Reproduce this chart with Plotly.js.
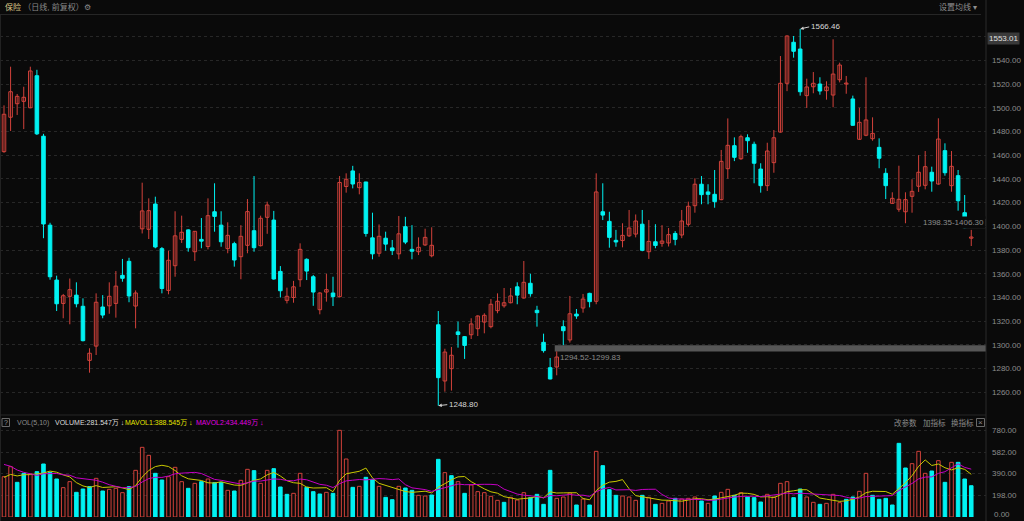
<!DOCTYPE html>
<html><head><meta charset="utf-8">
<script src="https://cdn.plot.ly/plotly-3.0.1.min.js"></script>
<style>html,body{margin:0;padding:0;background:#0a0a0a;overflow:hidden}#chart{width:1024px;height:521px;}</style>
</head><body><div id="chart"></div>
<script>
// ---------- data ----------
const opens = [1463,1492,1503.4,1505.4,1500,1527,1476,1401,1354.7,1335,1341,1342,1332.6,1287,1299,1332,1333,1335,1358.7,1370.5,
1332.8,1397.9,1397.5,1418.8,1381.2,1346,1366.8,1389,1397,1378.6,1389,1383,1412.3,1401,1381.2,1385.4,1374.4,1384,1396.3,1383.7,
1407.6,1405.3,1362,1337.6,1340,1355,1372.2,1357.5,1329.7,1344.6,1343.8,1340.7,1433.6,1446.7,1432.6,1437.4,1390.3,1377.3,1390,1381.8,
1376.8,1399.7,1380.6,1378.6,1384.3,1375.2,1317,1269.6,1280,1311,1307,1308.6,1313.7,1319.3,1315.4,1328.9,1333,1335.6,1349,1339.6,
1352,1329.2,1302.2,1280.8,1281.4,1315.4,1304.2,1326,1331.1,1343.5,1336.8,1412.3,1404.2,1388.2,1388,1392,1393.5,1401.8,1378.6,1387,
1385.7,1386,1394,1392.7,1401.7,1417.4,1435.5,1429,1427,1422.5,1448.6,1468,1457,1474.7,1469.2,1448.3,1434.3,1453.7,1479.5,1520.6,
1555.2,1549.5,1510.2,1517.7,1520,1514.4,1510.7,1523.6,1520,1507.4,1473.4,1476.8,1473.9,1466.6,1444.7,1419.4,1414.4,1412.3,1425.3,1433.8,
1434.6,1445.6,1435.7,1463.8,1434.3,1442.7,1411.5,1390];
const highs = [1502,1534.6,1511.6,1517.7,1534.6,1532,1478,1403,1358.4,1343,1356,1352.8,1339.3,1297.2,1343.5,1342,1352.8,1362.3,1372.5,1373.5,
1346,1436.8,1423.6,1425,1382.6,1379.4,1412.7,1409,1397.5,1396,1407,1423.6,1436.3,1412.7,1403.4,1387,1401,1423,1442.4,1409,
1420.8,1413,1366.5,1348.3,1354,1385.7,1373,1359,1344.5,1360,1357.5,1442.4,1444.7,1451,1444.7,1437.5,1411.5,1401.6,1395.5,1388.5,
1408.7,1408,1401,1390.7,1398,1399.2,1328.6,1296.8,1298.3,1319.7,1307.5,1322.5,1325,1326.7,1338.7,1343.5,1348,1348,1352.8,1370.8,
1360,1333,1309.5,1289,1294.52,1320.8,1341.3,1330.3,1343,1344,1444.7,1436.3,1412.3,1397,1402.6,1413.8,1410,1413.8,1405.3,1401.8,
1401,1398.6,1396,1413.8,1420.8,1440.5,1442.4,1435.5,1447.5,1464.4,1491,1475,1477.3,1477.6,1471.4,1453.2,1470.5,1481.2,1543.6,1561,
1560.5,1566.46,1524.5,1530.1,1525.7,1522.3,1557.7,1538,1526.8,1510.2,1500,1525.7,1491.9,1474.2,1449,1428.7,1451.1,1428.7,1439.7,1460,
1463.5,1450.3,1491.1,1470,1463.5,1447.5,1426.4,1397];
const lows = [1462,1480.4,1493.9,1482,1499.5,1477,1390,1355,1328.6,1322.5,1317.4,1331.7,1303,1276.6,1291.5,1322.5,1326.3,1323,1353.3,1336,
1314,1394,1389.3,1381.5,1343.5,1342.7,1357.5,1386,1378.6,1370.8,1381.5,1380.6,1395.5,1382.8,1377.3,1366,1355.4,1377.3,1378.6,1383,
1393.7,1355,1340,1335,1335.6,1349,1354.7,1333,1325.8,1336.5,1332.8,1340,1428.4,1432,1427,1391.3,1372.2,1374.4,1379.5,1375.8,
1372.2,1385,1372.2,1375.8,1383.5,1373.9,1248.8,1260.6,1261.5,1297.7,1288.2,1305,1307.5,1309.8,1314,1326.7,1331.4,1335,1334.3,1339,
1340.7,1315.4,1293.5,1271,1274.4,1299.83,1302,1322,1327.2,1331.7,1334.3,1405.3,1382,1382.8,1382.3,1391,1390.7,1379,1372.5,1381.5,
1382.8,1383,1384,1390,1399.7,1411.5,1418.6,1418.6,1415.7,1422,1440.2,1455,1456,1462,1436.3,1428.4,1429.8,1445.2,1479,1514,
1542.2,1510.2,1499.8,1512.2,1511,1506.8,1500.4,1521.4,1511.8,1485,1473,1476,1472.2,1449,1423,1419,1412.3,1402.6,1411.5,1429,
1431.2,1429.2,1435,1442.7,1429.2,1413.2,1398.35,1383.4];
const closes = [1494.5,1513.5,1509.6,1508.8,1531,1478,1402,1357.5,1334.7,1341.5,1346.6,1334.7,1303.6,1293,1336,1325.2,1341,1349.6,1356.2,1341.3,
1343.8,1413,1413.2,1382.6,1347.6,1371.4,1392,1395,1382,1395.8,1387.5,1409,1408.4,1387,1392.4,1371.6,1391.6,1412.4,1382,1406.8,
1418,1355.6,1345.7,1341,1349,1380.6,1362.3,1344.6,1343.8,1346.6,1340.7,1437,1439.7,1435.7,1437,1394,1376.8,1391.6,1385,1379.5,
1393.7,1386.7,1379,1382.3,1390.7,1384,1272.4,1294,1291.3,1308.8,1299.6,1317.7,1324.4,1325,1334.3,1336.8,1335.6,1341.3,1342,1352.8,
1343.2,1327.2,1295.2,1271.3,1289.8,1312,1326.3,1324.4,1338.7,1336.5,1429,1409.5,1390.7,1386.8,1392.4,1398.6,1404.5,1379.8,1387.3,1383.9,
1387.6,1393,1389,1404.5,1416.9,1435.5,1426.7,1427,1420.8,1454.8,1468.3,1458.2,1475.6,1472.2,1453.2,1434.3,1463.5,1474.7,1520.6,1560.5,
1547.6,1513.5,1517.5,1520.6,1514.1,1517.5,1528.4,1536,1520.8,1485.2,1487.7,1489.7,1478.4,1457.4,1434.3,1423.6,1422.8,1422.5,1429.5,1445.6,
1450.3,1438.2,1473.6,1445.2,1450.6,1421.6,1398.9,1391];
// volume in 万
const volumes = [363,453,312,393,387,408,477,402,342,264,318,222,252,273,348,234,249,258,219,273,
420,627,555,393,333,363,447,318,258,303,318,342,309,312,240,234,330,429,417,303,
420,435,270,204,213,393,267,228,207,222,213,780,522,267,276,357,339,276,177,156,
276,261,240,195,189,198,519,399,372,318,213,288,228,219,186,150,132,177,153,219,
174,204,114,420,168,180,216,108,162,108,591,462,246,195,189,180,150,195,177,114,
123,144,168,162,168,180,144,123,189,222,249,195,219,180,174,135,204,180,303,318,
174,252,180,132,114,123,204,129,159,180,231,393,195,159,168,108,663,441,480,591,
393,414,507,312,492,492,342,281.547];
// estimated volumes of the days just before the first visible one (seed for the averages)
const prevVolumes = [620,650,600,520,560,320,380,340,380];
const priceTicks = [1260,1280,1300,1320,1340,1360,1380,1400,1420,1440,1460,1480,1500,1520,1540,1560];
const volTicks = [0,198,390,582,780];
const gapStart = [84,146];
const gapLow = [1294.52,1398.35];
const gapHigh = [1299.83,1406.30];
const maPeriods = [5,10];
const headerVolume = '281.547万';
const headerMa1 = '388.545万';
const headerMa2 = '434.449万';
const topAxisLabel = '1553.01';

// ---------- colours ----------
const RED = '#d2423b', CYAN = '#00f2f2', BG = '#0a0a0a', GRID = '#272727', TXT = '#8c8c8c';
const idx = closes.map((_, i) => i);
const up = closes.map((c, i) => c >= opens[i]);
const volUp = closes.map((c, i) => i === 0 ? up[0] : c >= closes[i - 1]);

function wick(flag) {
  const x = [], y = [];
  idx.forEach(i => { if (up[i] === flag) { x.push(i, i, null); y.push(lows[i], highs[i], null); } });
  return {type:'scatter', mode:'lines', x, y, xaxis:'x', yaxis:'y', hoverinfo:'skip',
    line:{color: flag ? RED : CYAN, width:1}, showlegend:false};
}
function bodies(flag) {
  const x = [], base = [], h = [];
  idx.forEach(i => { if (up[i] === flag) {
    x.push(i); base.push(Math.min(opens[i], closes[i]));
    h.push(Math.max(Math.abs(closes[i] - opens[i]), 0.5)); } });
  return {type:'bar', x, y:h, base, width:0.54, xaxis:'x', yaxis:'y', hoverinfo:'skip', showlegend:false,
    marker:{color: flag ? BG : CYAN, line:{color: flag ? RED : CYAN, width:1}}};
}
function volBars(flag) {
  const x = [], y = [];
  idx.forEach(i => { if (volUp[i] === flag) { x.push(i); y.push(volumes[i]); } });
  return {type:'bar', x, y, width:0.54, xaxis:'x', yaxis:'y2', hoverinfo:'skip', showlegend:false,
    marker:{color: flag ? BG : CYAN, line:{color: flag ? RED : CYAN, width:1}}};
}
const allVol = prevVolumes.concat(volumes);
function ma(k) {
  return idx.map(i => { const j = i + prevVolumes.length; let s = 0;
    for (let t = j - k + 1; t <= j; t++) s += allVol[t]; return s / k; });
}
const traces = [
  wick(true), wick(false), bodies(true), bodies(false),
  volBars(true), volBars(false),
  {type:'scatter', mode:'lines', x:idx, y:ma(maPeriods[0]), xaxis:'x', yaxis:'y2', line:{color:'#c9c900', width:1}, hoverinfo:'skip', showlegend:false},
  {type:'scatter', mode:'lines', x:idx, y:ma(maPeriods[1]), xaxis:'x', yaxis:'y2', line:{color:'#c400c4', width:1}, hoverinfo:'skip', showlegend:false}
];

// ---------- pixel helpers for frame elements ----------
const W = 1024, H = 521, PW = 986;
const px = x => x / PW, py = y => (H - y) / H;
const xRange = [-0.608, 149.24];
const FONT = 'Liberation Sans, Noto Sans CJK SC, sans-serif';

function txt(x, y, text, color, size, anchor) {
  return {xref:'paper', yref:'paper', x:px(x), y:py(y), text, showarrow:false, xanchor:anchor || 'left',
    yanchor:'middle', font:{family:FONT, size:size || 8, color:color || TXT}};
}

const shapes = [
  {type:'line', xref:'paper', yref:'paper', x0:1, x1:1, y0:0, y1:1, line:{color:'#2a2a2a', width:1}},
  {type:'line', xref:'paper', yref:'paper', x0:px(0.5), x1:px(0.5), y0:0, y1:py(14.5), line:{color:'#222', width:1}},
  {type:'line', xref:'paper', yref:'paper', x0:0, x1:px(981), y0:py(14.5), y1:py(14.5), line:{color:'#262626', width:1}},
  {type:'line', xref:'paper', yref:'paper', x0:0, x1:1, y0:py(415), y1:py(415), line:{color:'#262626', width:1}},
  {type:'rect', xref:'paper', yref:'paper', x0:px(2), x1:px(9.5), y0:py(418.5), y1:py(426.5), line:{color:'#6a6a6a', width:1}},
  {type:'rect', xref:'paper', yref:'paper', x0:px(976.5), x1:px(984.5), y0:py(418.5), y1:py(426.5), line:{color:'#6a6a6a', width:1}}
];
gapStart.forEach((g, k) => shapes.push({type:'rect', xref:'x', yref:'y', x0:g - 0.3, x1:xRange[1],
  y0:gapLow[k], y1:gapHigh[k], fillcolor:'#565656', line:{width:0}, layer:'below'}));

// extreme labels
let iMax = 0, iMin = 0;
idx.forEach(i => { if (highs[i] > highs[iMax]) iMax = i; if (lows[i] < lows[iMin]) iMin = i; });

const annotations = [
  txt(3, 7.5, '<span style="color:#dcc98a">保险</span> <span style="color:#8a8a8a">（日线, 前复权）⚙</span>', TXT, 8),
  txt(979, 7.5, '设置均线 ▾', '#8f8f8f', 8, 'right'),
  txt(5.8, 422.5, '?', '#9a9a9a', 7, 'center'),
  txt(15, 422.5, 'VOL(5,10)', '#8a8a8a', 7),
  txt(53, 422.5, 'VOLUME:' + headerVolume + ' ↓', '#dddddd', 7),
  txt(123, 422.5, 'MAVOL1:' + headerMa1 + ' ↓', '#e2e200', 7),
  txt(194, 422.5, 'MAVOL2:' + headerMa2 + ' ↓', '#e000e0', 7),
  txt(892, 422.5, '改参数', '#8a8a8a', 7.5),
  txt(920.5, 422.5, '加指标', '#8a8a8a', 7.5),
  txt(948.5, 422.5, '换指标', '#8a8a8a', 7.5),
  txt(980.5, 422.5, '×', '#8a8a8a', 8, 'center'),
  txt(992, 514.3, volTicks[0].toFixed(2), TXT, 8),
  {xref:'paper', yref:'paper', x:px(987), y:py(39), text:topAxisLabel, showarrow:false, xanchor:'left', yanchor:'middle',
    bgcolor:'#3a3a3a', borderpad:1, font:{family:FONT, size:8, color:'#e0e0e0'}},
  {xref:'x', yref:'y', x:iMax, y:highs[iMax], text:highs[iMax].toFixed(2), showarrow:true, ax:9, ay:-2,
    xanchor:'left', arrowhead:2, arrowsize:0.7, arrowwidth:1, arrowcolor:'#cfcfcf', standoff:0,
    font:{family:FONT, size:8, color:'#d8d8d8'}},
  {xref:'x', yref:'y', x:iMin, y:lows[iMin], text:lows[iMin].toFixed(2), showarrow:true, ax:9, ay:-1,
    xanchor:'left', arrowhead:2, arrowsize:0.7, arrowwidth:1, arrowcolor:'#cfcfcf', standoff:0,
    font:{family:FONT, size:8, color:'#d8d8d8'}},
  {xref:'x', yref:'y', x:gapStart[0], y:gapLow[0], text:gapLow[0].toFixed(2) + '-' + gapHigh[0].toFixed(2),
    showarrow:false, xanchor:'left', yanchor:'top', xshift:1, font:{family:FONT, size:8, color:'#8a8a8a'}},
  {xref:'paper', yref:'y', x:1, y:(gapLow[1] + gapHigh[1]) / 2, text:gapLow[1].toFixed(2) + '-' + gapHigh[1].toFixed(2),
    showarrow:false, xanchor:'right', yanchor:'middle', yshift:1, bgcolor:BG, font:{family:FONT, size:8, color:'#8a8a8a'}}
];

const layout = {
  width:W, height:H, margin:{l:0, r:W - PW, t:0, b:0},
  paper_bgcolor:BG, plot_bgcolor:BG, barmode:'overlay', showlegend:false, dragmode:false,
  xaxis:{range:xRange, visible:false, fixedrange:true},
  yaxis:{domain:[py(414), py(16)], range:[1241.77, 1577.35], side:'right', tickvals:priceTicks,
    ticktext:priceTicks.map(v => v === 1560 ? '' : v.toFixed(2)), ticks:'', ticklabelstandoff:5,
    showgrid:true, gridcolor:GRID, griddash:'dot', gridwidth:1, zeroline:false, showline:false,
    tickfont:{family:FONT, size:8, color:TXT}, fixedrange:true},
  yaxis2:{domain:[py(517), py(425)], range:[0, 828], side:'right', tickvals:volTicks,
    ticktext:volTicks.map(v => v === 0 ? '' : v.toFixed(2)), ticks:'', ticklabelstandoff:5,
    showgrid:true, gridcolor:GRID, griddash:'dot', gridwidth:1, zeroline:false, showline:false,
    tickfont:{family:FONT, size:8, color:TXT}, fixedrange:true},
  shapes, annotations
};
Plotly.newPlot('chart', traces, layout, {displayModeBar:false, staticPlot:true});
</script></body></html>
